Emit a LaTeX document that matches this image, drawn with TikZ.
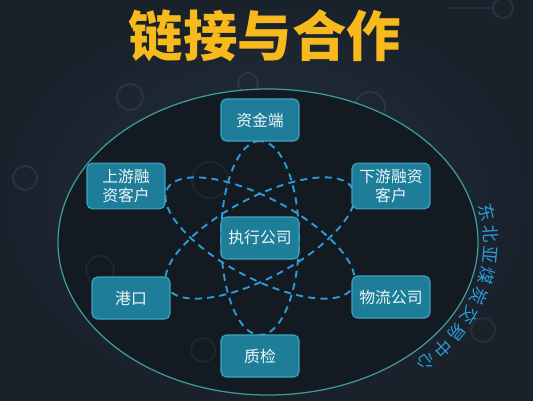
\documentclass[tikz,border=0pt]{standalone}
\usepackage{fontspec}
\setmainfont{Noto Sans CJK SC}
\usepackage{tikz}
\usetikzlibrary{decorations.text}
\usepackage{xcolor}
\definecolor{bgmid}{HTML}{25323F}
\definecolor{bgedge}{HTML}{19212B}
\definecolor{ovalfill}{HTML}{141A22}
\definecolor{ovalline}{HTML}{3E9C9A}
\definecolor{boxfill}{HTML}{1E7E9A}
\definecolor{boxline}{HTML}{3DA3C0}
\definecolor{orbitblue}{HTML}{2A9BD4}
\definecolor{titleyellow}{HTML}{F7B91B}
\definecolor{ringgray}{HTML}{4A5763}

\begin{document}
\begin{tikzpicture}[x=0.02cm,y=0.02cm,
  box/.style={draw=boxline, fill=boxfill, rounded corners=3pt, line width=0.6pt,
    minimum width=1.56cm, minimum height=0.84cm, align=center,
    text=white!92!boxfill, font=\fontsize{9}{11}\selectfont},
  orbit/.style={draw=orbitblue, dash pattern=on 4pt off 3pt, line width=1.1pt},
  ring/.style={draw=ringgray, line width=1.2pt, opacity=0.3}]
\useasboundingbox (0,0) rectangle (533,400);
\shade[inner color=bgmid, outer color=bgedge] (0,0) rectangle (533,400);
\draw[ring] (130,303) circle[radius=13];
\draw[ring] (248,317) circle[radius=10];
\draw[ring] (503,392) circle[radius=10];
\draw[ring] (448,392) -- (492,392);
\draw[ring] (370,293) circle[radius=15];
\draw[ring] (25,222) circle[radius=12];
\node[font=\fontsize{31}{31}\selectfont\bfseries, text=titleyellow] (title) at (265,364) {链接与合作};
\filldraw[fill=ovalfill, draw=ovalline, line width=0.7pt] (268,158) ellipse[x radius=210, y radius=153];
\draw[ring, opacity=0.18] (210,220) circle[radius=18];
\draw[ring, opacity=0.18] (100,130) circle[radius=14];
\draw[ring, opacity=0.18] (203,50) circle[radius=12];
\draw[ring, opacity=0.25] (483,70) circle[radius=12];
\path[decorate, decoration={text along path, text align={fit to path},
    text={|\color{orbitblue}\fontsize{10}{11}\selectfont|东北亚煤炭交易中心}}]
  ([shift={(268,158)}]13:216 and 164) arc[start angle=13, end angle=-47, x radius=216, y radius=164];
\coordinate (hub) at (260,162);
\begin{scope}[orbit]
  \draw[rotate around={90:(hub)}] (hub) ellipse[x radius=97, y radius=39];
  \draw[rotate around={-28:(hub)}] (hub) ellipse[x radius=105, y radius=40];
  \draw[rotate around={28:(hub)}] (hub) ellipse[x radius=105, y radius=40];
\end{scope}
\node[box] (zijin) at (260,280) {资金端};
\node[box] (shangyou) at (126,214) {上游融\\资客户};
\node[box] (xiayou) at (391,214) {下游融资\\客户};
\node[box] (zhixing) at (hub) {执行公司};
\node[box] (gangkou) at (131,102) {港口};
\node[box] (wuliu) at (391,103) {物流公司};
\node[box] (zhijian) at (260,44) {质检};
\end{tikzpicture}
\end{document}
